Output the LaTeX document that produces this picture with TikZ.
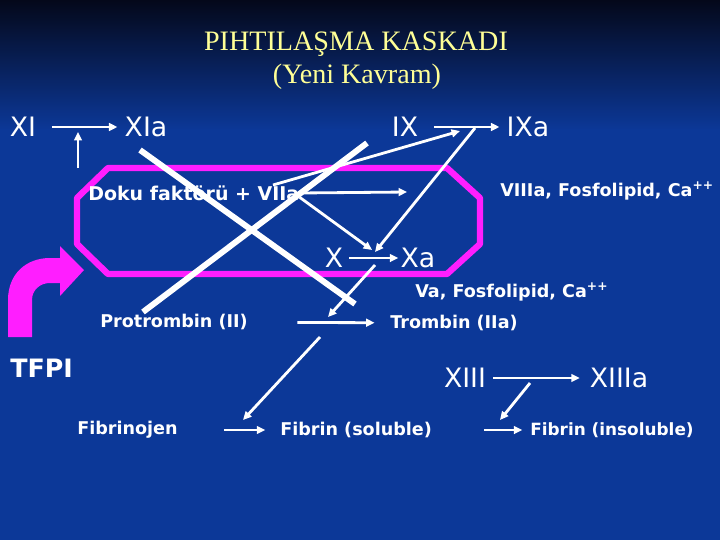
\documentclass[tikz,border=0pt]{standalone}
\usepackage{fontspec}
\setmainfont{Liberation Serif}
\newfontfamily\labelfont{DejaVu Sans}
\usetikzlibrary{arrows.meta,positioning}
\definecolor{slideblue}{RGB}{12,56,152}
\definecolor{slidetop}{RGB}{4,8,26}
\definecolor{titleyellow}{RGB}{255,255,150}
\definecolor{pinkline}{RGB}{255,30,255}
\tikzset{
  factor/.style={text=white,font=\labelfont\fontsize{19}{22}\selectfont,inner sep=0pt},
  protein/.style={text=white,font=\labelfont\bfseries\fontsize{12.5}{15}\selectfont,inner sep=0pt},
  conv/.style={white,line width=2pt,-{Triangle[length=6pt,width=5.5pt]}},
  block/.style={white,line width=4.2pt},
}

\begin{document}
\begin{tikzpicture}[x=0.025cm,y=-0.025cm]
        \clip (0,0) rectangle (720,540);
        \fill[top color=slidetop,bottom color=slideblue] (0,0) rectangle (720,130);
        \fill[slideblue] (0,129) rectangle (720,540);

        % title
        \node[text=titleyellow,font=\fontsize{20}{22}\selectfont,inner sep=0pt] (title) at (356,44) {PIHTILAŞMA KASKADI};
        \node[text=titleyellow,font=\fontsize{20}{22}\selectfont,inner sep=0pt] (subtitle) at (357,77) {(Yeni Kavram)};

        % cofactor box
        \draw[pinkline,line width=4.5pt,line join=round] (108,168) -- (447,168) -- (480,198) -- (480,244)
            -- (447,274) -- (108,274) -- (77,244) -- (77,198) -- cycle;
        \fill[pinkline] (8,337) -- (8,300) .. controls (8,274) and (26,258) .. (50,258) -- (60,258) -- (60,246)
            -- (84,270) -- (60,296) -- (60,283) -- (50,283) .. controls (40,283) and (32,290) .. (32,300)
            -- (32,337) -- cycle;

        \node[factor] (xi) at (23,127) {XI};
        \node[factor] (xia) at (146,127) {XIa};
        \node[factor] (ix) at (405,127) {IX};
        \node[factor] (ixa) at (528,127) {IXa};
        \node[factor] (x) at (334,258) {X};
        \node[factor] (xa) at (418,258) {Xa};
        \node[factor] (xiii) at (465,378) {XIII};
        \node[factor] (xiiia) at (619,378) {XIIIa};

        \node[protein,anchor=west,font=\labelfont\bfseries\fontsize{13.5}{15}\selectfont] (tf) at (88,193) {Doku faktörü + VIIa};
        \node[protein,anchor=west] (viiia) at (500,191) {VIIIa, Fosfolipid, Ca\textsuperscript{++}};
        \node[protein,anchor=west] (va) at (415,292) {Va, Fosfolipid, Ca\textsuperscript{++}};
        \node[protein,anchor=west] (pro) at (100,322) {Protrombin (II)};
        \node[protein,anchor=west] (thr) at (390,323) {Trombin (IIa)};
        \node[protein,anchor=west,font=\labelfont\bfseries\fontsize{18}{20}\selectfont] (tfpi) at (10,368) {TFPI};
        \node[protein,anchor=west] (fbg) at (77,430) {Fibrinojen};
        \node[protein,anchor=west] (fbs) at (280,430) {Fibrin (soluble)};
        \node[protein,anchor=west,font=\labelfont\bfseries\fontsize{12}{15}\selectfont] (fbi) at (530,430) {Fibrin (insoluble)};

        \coordinate (xiroot) at (78,168);
        \coordinate (xitip) at (78,132);
        \coordinate (tfup) at (273,185);
        \coordinate (ixhit) at (460,131);
        \coordinate (ixfrom) at (475,128);
        \coordinate (viiitip) at (407,192);
        \coordinate (xhit) at (372,250);
        \coordinate (xhit2) at (375,252);
        \coordinate (xafrom) at (375,265);
        \coordinate (thrhit) at (328,317);
        \coordinate (thrfrom) at (320,337);
        \coordinate (fbshit) at (243,420);
        \coordinate (xiiifrom) at (530,383);
        \coordinate (fbihit) at (500,420);

        % conversions
        \draw[conv,shorten <=11pt,shorten >=5pt] (xi) -- (xia);
        \draw[conv,shorten <=11pt,shorten >=5pt] (ix) -- (ixa);
        \draw[conv,shorten <=4pt,shorten >=1.5pt] (x) -- (xa);
        \draw[conv,shorten <=5pt,shorten >=7pt] (xiii) -- (xiiia);
        \draw[conv,shorten <=35pt,shorten >=11pt] (pro) -- (thr);
        \draw[conv,shorten <=33pt,shorten >=10.5pt] (fbg) -- (fbs);
        \draw[conv,shorten <=37pt,shorten >=5.5pt] (fbs) -- (fbi);

        % activations
        \draw[conv] (xiroot) -- (xitip);
        \draw[conv] (tfup) -- (ixhit);
        \draw[conv] (tf.east) -- (viiitip);
        \draw[conv] ([yshift=-3pt]tf.east) -- (xhit);
        \draw[conv] (ixfrom) -- (xhit2);
        \draw[conv] (xafrom) -- (thrhit);
        \draw[conv] (thrfrom) -- (fbshit);
        \draw[conv] (xiiifrom) -- (fbihit);

        % blocked steps
        \draw[block] (140,150) -- (355,304);
        \draw[block] (143,312) -- (367,143);
\end{tikzpicture}
\end{document}
